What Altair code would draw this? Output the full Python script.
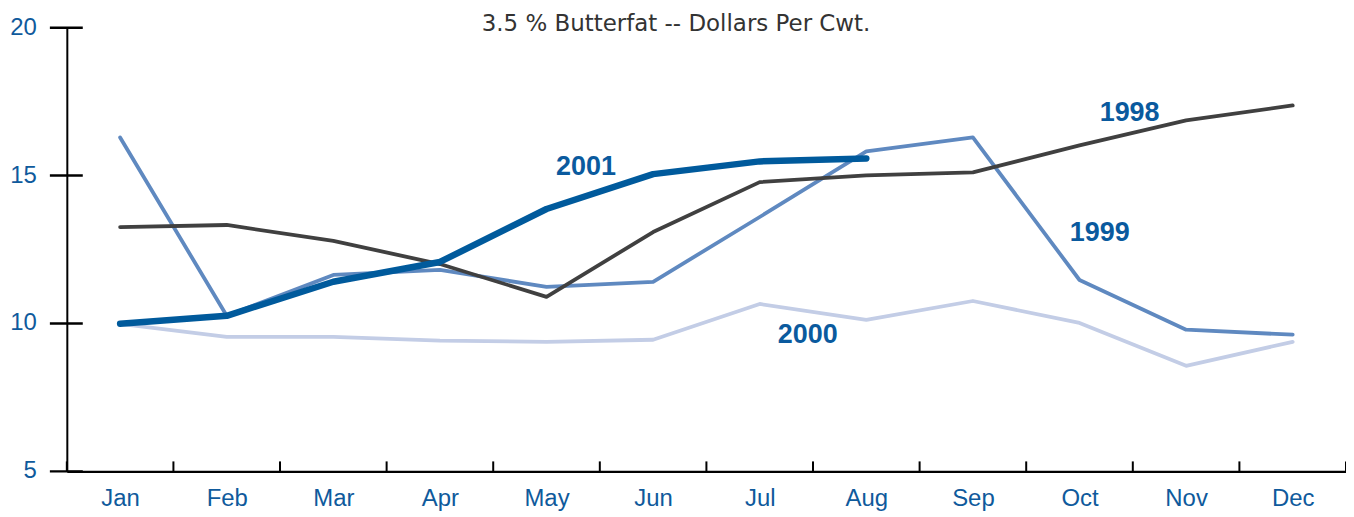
import altair as alt
import pandas as pd

months = ["Jan", "Feb", "Mar", "Apr", "May", "Jun", "Jul", "Aug", "Sep", "Oct", "Nov", "Dec"]
y1998 = [13.26, 13.33, 12.79, 12.01, 10.90, 13.09, 14.78, 15.01, 15.11, 16.02, 16.87, 17.37]
y1999 = [16.29, 10.26, 11.64, 11.81, 11.24, 11.41, 13.60, 15.82, 16.29, 11.47, 9.79, 9.62]
y2000 = [9.99, 9.55, 9.55, 9.42, 9.38, 9.45, 10.66, 10.12, 10.76, 10.02, 8.57, 9.38]
y2001 = [9.99, 10.26, 11.41, 12.08, 13.87, 15.05, 15.48, 15.58]

series = {"1998": y1998, "1999": y1999, "2000": y2000, "2001": y2001}
colors = {"1998": "#404040", "1999": "#5f89c0", "2000": "#c3cde6", "2001": "#005a9c"}
widths = {"1998": 3.8, "1999": 3.8, "2000": 3.8, "2001": 6.5}

label_text = ["2001", "1998", "1999", "2000"]
label_x = [4.37, 9.47, 9.19, 6.45]
label_y = [15.28, 17.10, 13.06, 9.62]

title_text = "3.5 % Butterfat -- Dollars Per Cwt."

y_ticks = [5, 10, 15, 20]
x_ticks = [i - 0.5 for i in range(13)]

W, H = 1283, 445

xscale = alt.Scale(domain=[-0.5, 11.5], nice=False, zero=False)
yscale = alt.Scale(domain=[5, 20], nice=False, zero=False)

label_expr = "[" + ",".join(f"'{m}'" for m in months) + "][datum.value]"

xaxis = alt.Axis(values=list(range(12)), labelExpr=label_expr, ticks=False, grid=False,
                 domainColor="black", domainWidth=2.5, labelFont="Liberation Sans",
                 labelFontSize=24, labelColor="#0f5a9c", labelPadding=15, title=None)
yaxis = alt.Axis(values=y_ticks, ticks=False, grid=False, labels=False, domainColor="black",
                 domainWidth=2, title=None)

def X(field):
    return alt.X(field, scale=xscale, axis=xaxis)

def Y(field):
    return alt.Y(field, scale=yscale, axis=yaxis)

layers = []
for yr in ["2000", "1999", "1998", "2001"]:
    vals = series[yr]
    df = pd.DataFrame({"m": list(range(len(vals))), "v": vals})
    layers.append(alt.Chart(df).mark_line(color=colors[yr], strokeWidth=widths[yr],
                                          strokeCap="round", strokeJoin="round").encode(
        x=X("m:Q"), y=Y("v:Q")))

lab_df = pd.DataFrame({"t": label_text, "x": label_x, "y": label_y})
labels = alt.Chart(lab_df).mark_text(font="Liberation Sans", fontSize=27, fontWeight="bold",
                                     color="#0a5a9e").encode(
    x=X("x:Q"), y=Y("y:Q"), text="t:N")

yt_df = pd.DataFrame({"v": y_ticks, "t": [str(v) for v in y_ticks]})
yticks = alt.Chart(yt_df).mark_rule(color="black", strokeWidth=2.5).encode(
    y=Y("v:Q"), x=alt.value(-17), x2=alt.value(16))
ylabels = alt.Chart(yt_df).mark_text(font="Liberation Sans", fontSize=24, color="#0f5a9c",
                                     align="right", baseline="middle").encode(
    y=Y("v:Q"), x=alt.value(-30), text="t:N")

xt_df = pd.DataFrame({"p": x_ticks})
xticks = alt.Chart(xt_df).mark_rule(color="black", strokeWidth=2).encode(
    x=X("p:Q"), y=alt.value(H - 10), y2=alt.value(H))

title = alt.Chart(pd.DataFrame({"t": [title_text]})).mark_text(
    font="DejaVu Sans", fontSize=23, color="#333333", baseline="alphabetic", align="center"
).encode(x=alt.value(611), y=alt.value(3), text="t:N")

chart = alt.layer(*layers, labels, yticks, ylabels, xticks, title).properties(
    width=W, height=H,
    padding={"left": 59, "top": 19, "right": 0, "bottom": 45},
    autosize=alt.AutoSizeParams(type="none"),
).configure_view(stroke=None)

chart.save("out.html", embed_options={"renderer": "svg", "actions": False})
